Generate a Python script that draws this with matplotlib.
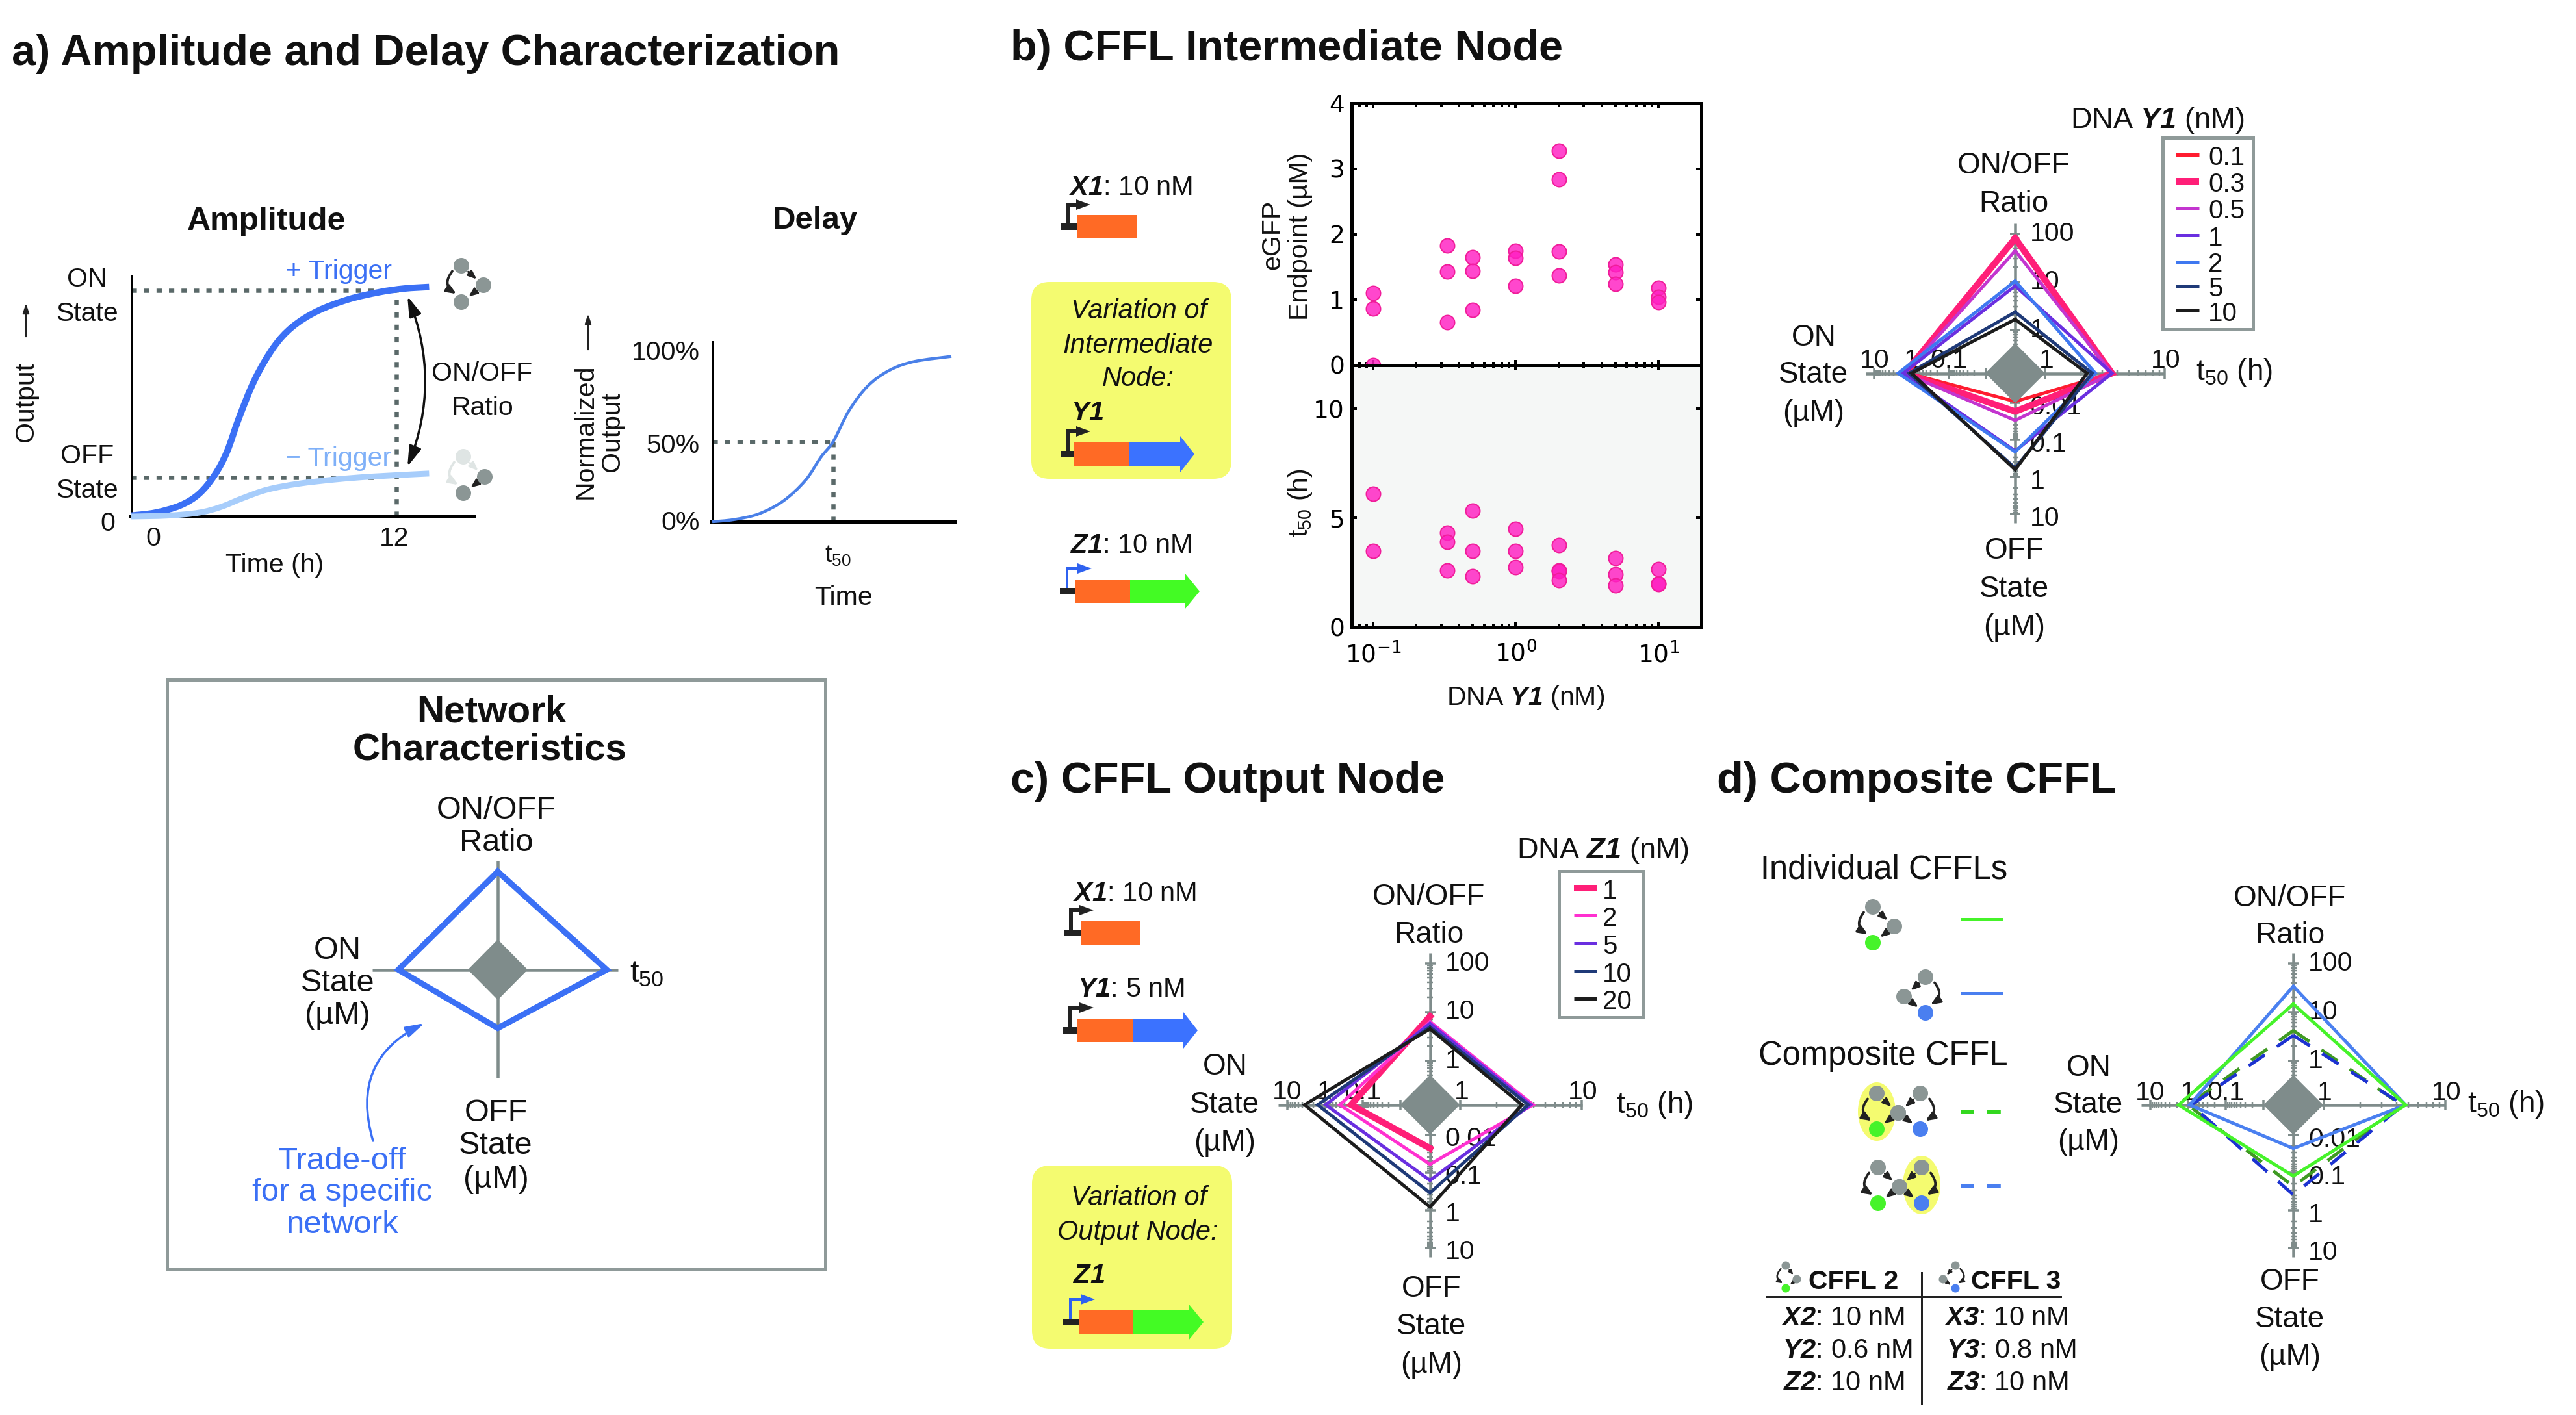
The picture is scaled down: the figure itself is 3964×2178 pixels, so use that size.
import matplotlib
matplotlib.use("Agg")
import matplotlib.pyplot as plt
import numpy as np
from matplotlib.patches import FancyArrowPatch, Rectangle, Polygon, Ellipse, FancyBboxPatch, PathPatch
from matplotlib.path import Path

W, H = 3964, 2178
plt.rcParams.update({
    'font.family': ['Liberation Sans', 'DejaVu Sans'],
    'mathtext.fontset': 'custom',
    'mathtext.rm': 'Liberation Sans',
    'mathtext.it': 'Liberation Sans:italic',
    'mathtext.bf': 'Liberation Sans:bold',
    'mathtext.bfit': 'Liberation Sans:italic:bold',
    'mathtext.default': 'regular',
})

# ---------- data ----------
amp_on_t = [-1.09, 0.10, 1.33, 2.25, 3.02, 3.63, 4.24, 5.01, 5.93, 6.85, 8.08, 9.61, 11.14, 12.37, 13.6]
amp_on_y = [0.004, 0.017, 0.049, 0.10, 0.183, 0.286, 0.44, 0.607, 0.748, 0.838, 0.908, 0.96, 0.992, 1.008, 1.015]
amp_off_t = [-1.09, 0.72, 2.25, 3.32, 4.40, 5.62, 7.16, 9.0, 10.84, 13.6]
amp_off_y = [0.0, 0.004, 0.017, 0.042, 0.081, 0.119, 0.145, 0.164, 0.177, 0.19]
delay_t = [0, 1.07, 2.31, 3.54, 4.62, 5.39, 6.01, 6.78, 7.71, 8.79, 10.02, 11.87]
delay_y = [0, 1.3, 4.9, 13.1, 25.8, 40.3, 50.3, 69.3, 84.8, 94.7, 100.2, 103.4]

dna_y1 = [0.1, 0.1, 0.1, 0.33, 0.33, 0.33, 0.5, 0.5, 0.5, 1, 1, 1, 2, 2, 2, 2, 5, 5, 5, 10, 10, 10]
egfp = [1.1, 0.86, 0.0, 1.83, 1.43, 0.655, 1.65, 1.44, 0.84, 1.75, 1.64, 1.21, 3.28, 2.84, 1.74, 1.37, 1.54, 1.42, 1.24, 1.18, 1.04, 0.96]
dna_y1_t = [0.1, 0.1, 0.33, 0.33, 0.33, 0.5, 0.5, 0.5, 1, 1, 1, 2, 2, 2, 2, 5, 5, 5, 10, 10, 10]
t50_y1 = [6.09, 3.49, 4.32, 3.9, 2.58, 5.33, 3.49, 2.32, 4.5, 3.49, 2.74, 3.74, 2.6, 2.56, 2.15, 3.16, 2.41, 1.91, 2.65, 2.0, 1.97]

# radar series: (ON/OFF ratio, t50, OFF state, ON state)
radar_b_labels = ['0.1', '0.3', '0.5', '1', '2', '5', '10']
radar_b_values = [
    [84.6, 3.63, 0.00927, 1.24],
    [80, 3.63, 0.0173, 1.52],
    [44, 3.63, 0.030, 1.52],
    [8.2, 3.63, 0.2, 1.68],
    [10.3, 2.64, 0.21, 2.28],
    [2.33, 2.48, 0.58, 1.17],
    [1.64, 2.25, 0.64, 1.0],
]
radar_b_colors = ['#ff1c30', '#ff1f78', '#c335cf', '#6a2fe0', '#3f78f0', '#1f3a78', '#1c1c1c']
radar_b_widths = [5, 10, 5, 5, 5, 5, 5]

radar_c_labels = ['1', '2', '5', '10', '20']
radar_c_values = [
    [8.07, np.nan, 0.023, 0.2],
    [6.27, 3.98, 0.061, 0.398],
    [5.76, 3.8, 0.163, 0.94],
    [4.87, 3.63, 0.35, 1.54],
    [4.48, 3.22, 0.83, 3.42],
]
radar_c_colors = ['#ff1f78', '#ff30d0', '#6a2fe0', '#1f3a78', '#1c1c1c']
radar_c_widths = [10, 5, 5, 5, 5]

radar_d_values = [
    [4.16, 4.4, 0.234, 1.0],
    [3.3, 4.54, 0.39, 0.82],
    [33.7, 4.74, 0.023, 0.91],
    [14.5, 4.74, 0.124, 1.78],
]
radar_d_colors = ['#3f9a22', '#1c32d0', '#4a80f0', '#46f32a']
radar_d_dashed = [True, True, False, False]

tradeoff_r = [151, 167.5, 90, 153]

ratio_ticks = [0.5, 0.6, 0.7, 0.8, 0.9, 1, 2, 3, 4, 5, 6, 7, 8, 9, 10, 20, 30, 40, 50, 60, 70, 80, 90, 100]
state_ticks = [0.01, 0.02, 0.03, 0.04, 0.05, 0.06, 0.07, 0.08, 0.09, 0.1, 0.2, 0.3, 0.4, 0.5, 0.6, 0.7, 0.8, 0.9,
               1, 2, 3, 4, 5, 6, 7, 8, 9, 10]
t50_ticks = [1, 2, 3, 4, 5, 6, 7, 8, 9, 10]

GRAY = '#7f8c8b'
BOXG = '#8f9a99'
INK = '#111111'
BLUE = '#3b70f5'
LBLUE = '#a7cdfb'
ORANGE = '#ff6a25'
GBLUE = '#3b72ff'
GGREEN = '#43fb24'
YELLOW = '#f4fb70'
NODE = '#8b9695'
ARROW = '#222222'
DOTC = '#5a6969'

fig = plt.figure(figsize=(W / 100, H / 100), dpi=100, facecolor='white')


def px_axes(x0, y0, x1, y1, z=2):
    a = fig.add_axes([x0 / W, 1 - y1 / H, (x1 - x0) / W, (y1 - y0) / H], zorder=z)
    a.patch.set_alpha(0)
    return a


ov = px_axes(0, 0, W, H, z=1)
ov.set_xlim(0, W)
ov.set_ylim(H, 0)
ov.axis('off')


def T(x, y, s, size=30, ha='center', va='center', color=INK, **kw):
    if 'rotation' in kw:
        x += 4
    else:
        y += 5
    return ov.text(x, y, s, fontsize=size, ha=ha, va=va, color=color, **kw)


def px(v):
    return v * 0.72


def smooth(ax, xs, ys, **kw):
    """Draw a smooth stroke through the read points (Catmull-Rom handles as Bezier controls)."""
    p = np.column_stack([xs, ys]).astype(float)
    verts = [p[0]]
    codes = [Path.MOVETO]
    for i in range(len(p) - 1):
        p0 = p[max(i - 1, 0)]
        p1, p2 = p[i], p[i + 1]
        p3 = p[min(i + 2, len(p) - 1)]
        verts += [p1 + (p2 - p0) / 6, p2 - (p3 - p1) / 6, p2]
        codes += [Path.CURVE4] * 3
    ax.add_patch(PathPatch(Path(verts, codes), fill=False, clip_on=False, **kw))


# ---------- panel titles ----------
TS = 48
T(18, 78, 'a) Amplitude and Delay Characterization', size=TS, ha='left', weight='bold')
T(1555, 71, 'b) CFFL Intermediate Node', size=TS, ha='left', weight='bold')
T(1555, 1198, 'c) CFFL Output Node', size=TS, ha='left', weight='bold')
T(2642, 1198, 'd) Composite CFFL', size=TS, ha='left', weight='bold')

# ---------- amplitude ----------
a1 = px_axes(202, 425, 729, 795)
a1.set_xlim(-1.09, 15.8)
a1.set_ylim(0, 1.063)
a1.set_xticks([])
a1.set_yticks([])
for s in ['top', 'right']:
    a1.spines[s].set_visible(False)
a1.spines['left'].set_linewidth(px(3))
a1.spines['bottom'].set_linewidth(px(6))
dot = (0, (1.25, 1.7))
DW = px(6.5)
a1.plot([-1.09, 12.0], [1, 1], color=DOTC, lw=DW, ls=dot, zorder=1)
a1.plot([12.0, 12.0], [0, 1], color=DOTC, lw=DW, ls=dot, zorder=1)
a1.plot([-1.09, 11], [0.172, 0.172], color=DOTC, lw=DW, ls=dot, zorder=1)
smooth(a1, amp_on_t, amp_on_y, edgecolor=BLUE, lw=px(10), zorder=3, capstyle='butt')
smooth(a1, amp_off_t, amp_off_y, edgecolor=LBLUE, lw=px(9), zorder=4, capstyle='butt')

T(410, 336, 'Amplitude', size=36, weight='bold')
T(1254, 334, 'Delay', size=35.5, weight='bold')
for y, s in [(425, 'ON'), (478, 'State'), (697, 'OFF'), (750, 'State')]:
    T(134, y, s, size=29.5)
T(166, 801, '0', size=29.5)
T(236, 824, '0', size=29.5)
T(607, 824, '12', size=29.5)
T(423, 865, 'Time (h)', size=29.5)
T(521, 413, '+ Trigger', size=29.5, color=BLUE)
T(521, 701, '\u2212 Trigger', size=29.5, color='#7fb0f8')
T(742, 570, 'ON/OFF', size=29.5)
T(742, 623, 'Ratio', size=29.5)
T(36, 618, 'Output', size=29.5, rotation=90)
T(897, 664, 'Normalized', size=29.5, rotation=90)
T(938, 664, 'Output', size=29.5, rotation=90)


def arr(p0, p1, rad=0.0, color=ARROW, lw=3, head=(10, 4), style='-|>', z=5):
    st = f"{style},head_length={head[0] * 0.72},head_width={head[1] * 0.72}"
    ov.add_patch(FancyArrowPatch(p0, p1, connectionstyle=f"arc3,rad={rad}", arrowstyle=st, color=color,
                                 lw=px(lw), shrinkA=0, shrinkB=0, zorder=z, mutation_scale=1))


arr((40, 518), (40, 467), lw=2.5, head=(12, 4))
arr((905, 538), (905, 483), lw=2.5, head=(12, 4))
arr((627, 456), (627, 718), rad=-0.2, lw=3.5, head=(26, 8), style='<|-|>', color='#111111')


def node(x, y, c, r=12):
    ov.add_patch(Ellipse((x, y), 2 * r, 2 * r, color=c, lw=0, zorder=6))


def ffl(X, Y, Z, cz, bend, r=12, shade=None, lw=3):
    """X -> Y -> Z with an arc X -> Z."""
    s = r / 12
    c_xy = shade or ARROW
    gap = r + 2

    def short(a, b):
        a, b = np.array(a, float), np.array(b, float)
        d = (b - a) / np.linalg.norm(b - a)
        return tuple(a + d * gap), tuple(b - d * gap)

    p, q = short(X, Y)
    arr(p, q, color=c_xy, lw=lw * s, head=(11 * s, 4.5 * s))
    p, q = short(Y, Z)
    arr(p, q, lw=lw * s, head=(11 * s, 4.5 * s))
    side = -1 if bend > 0 else 1
    off = 14 * s * side
    arr((X[0] + off, X[1] + gap * 0.6), (Z[0] + off * 0.55, Z[1] - gap * 0.9), rad=bend, color=c_xy,
        lw=(lw + 0.8) * s, head=(12 * s, 5 * s))
    node(*X, NODE if shade is None else '#dfe5e4', r)
    node(*Y, NODE, r)
    node(*Z, cz, r)


ffl((710, 409), (744, 439), (710, 465), NODE, 0.55)
ffl((713, 703), (746, 734), (713, 759), NODE, 0.55, shade='#dfe5e4')

# ---------- delay ----------
a2 = px_axes(1096, 525.5, 1469, 803)
a2.set_xlim(0, 12.03)
a2.set_ylim(0, 112.8)
a2.set_xticks([])
a2.set_yticks([])
for s in ['top', 'right']:
    a2.spines[s].set_visible(False)
a2.spines['left'].set_linewidth(px(3))
a2.spines['bottom'].set_linewidth(px(6))
a2.plot([0, 6.01], [50, 50], color=DOTC, lw=DW, ls=dot, zorder=1)
a2.plot([6.01, 6.01], [0, 50], color=DOTC, lw=DW, ls=dot, zorder=1)
smooth(a2, delay_t, delay_y, edgecolor='#4a80e8', lw=px(4.5), zorder=3, capstyle='butt')
T(1077, 538, '100%', size=29.5, ha='right')
T(1077, 681, '50%', size=29.5, ha='right')
T(1077, 800, '0%', size=29.5, ha='right')
T(1289, 851, 't$_{50}$', size=27)
T(1298, 915, 'Time', size=29.5)

# ---------- network characteristics box ----------
ov.add_patch(Rectangle((257, 1046), 1013, 908, fill=False, ec=BOXG, lw=px(5)))
T(756, 1091, 'Network', size=42, weight='bold')
T(754, 1150, 'Characteristics', size=42, weight='bold')
ncx, ncy = 766, 1492.6
ov.plot([573, 951], [ncy, ncy], color=GRAY, lw=px(4.5), solid_capstyle='butt')
ov.plot([ncx, ncx], [1325, 1659], color=GRAY, lw=px(4.5), solid_capstyle='butt')
ov.add_patch(Polygon([(ncx, ncy - 46.5), (ncx + 46, ncy), (ncx, ncy + 46.5), (ncx - 46, ncy)], color=GRAY, lw=0, zorder=3))
r_t, r_r, r_b, r_l = tradeoff_r
ov.plot([ncx, ncx + r_r, ncx, ncx - r_l, ncx], [ncy - r_t, ncy, ncy + r_b, ncy, ncy - r_t], color=BLUE, lw=px(9),
        solid_joinstyle='miter', zorder=4)
for y, s in [(1242, 'ON/OFF'), (1293, 'Ratio')]:
    T(764, y, s, size=35)
for y, s in [(1458, 'ON'), (1508, 'State'), (1559, '(\u00b5M)')]:
    T(519.5, y, s, size=35)
for y, s in [(1708, 'OFF'), (1758, 'State'), (1810, '(\u00b5M)')]:
    T(763, y, s, size=35)
T(995, 1494, 't$_{50}$', size=35)
for y, s in [(1782, 'Trade-off'), (1831, 'for a specific'), (1881, 'network')]:
    T(527, y, s, size=35.5, color=BLUE)
arr((574, 1756), (653, 1575), rad=-0.42, color=BLUE, lw=3.5, head=(24, 7))


# ---------- genes ----------
def gene(x0, xs, xe, ymid, half, ptop, atip, pcol, seg=None, tip=None, hx=None, hh=None):
    ov.add_patch(Rectangle((x0, ymid - 5), xs + 2 - x0, 10, color=ARROW, lw=0, zorder=3))
    pxv = x0 + 11
    w = 5.5 if pcol == ARROW else 4.5
    ov.add_patch(Rectangle((pxv - w / 2, ptop - w / 2), w, ymid - ptop, color=pcol, lw=0, zorder=2))
    ov.add_patch(Rectangle((pxv - w / 2, ptop - w / 2), atip - 15 - pxv, w, color=pcol, lw=0, zorder=2))
    ov.add_patch(Polygon([(atip - 22, ptop - 8), (atip, ptop), (atip - 22, ptop + 8)], color=pcol, lw=0, zorder=2))
    xm = xe
    ov.add_patch(Rectangle((xs, ymid - half), xm - xs, 2 * half, color=ORANGE, lw=0, zorder=4))
    if seg:
        ov.add_patch(Polygon([(xm, ymid - half), (hx, ymid - half), (hx, ymid - hh), (tip, ymid), (hx, ymid + hh),
                              (hx, ymid + half), (xm, ymid + half)], color=seg, lw=0, zorder=4))


ov.add_patch(FancyBboxPatch((1587 + 25, 434 + 25), 308 - 50, 303 - 50, boxstyle='round,pad=25,rounding_size=28',
                            color=YELLOW, lw=0, zorder=0.5))
ov.add_patch(FancyBboxPatch((1588 + 25, 1794 + 25), 308 - 50, 282 - 50, boxstyle='round,pad=25,rounding_size=28',
                            color=YELLOW, lw=0, zorder=0.5))

T(1740, 284, r'$\mathbfit{X1}$: 10 nM')
gene(1632, 1658, 1750, 349, 18, 315, 1678, ARROW)
T(1753, 474, 'Variation of', style='italic')
T(1751, 527, 'Intermediate', style='italic')
T(1751, 578, 'Node:', style='italic')
T(1673, 631, r'$\mathbfit{Y1}$')
gene(1632, 1653, 1738, 699, 18, 664, 1678, ARROW, GBLUE, 1838, 1816, 28)
T(1740, 835, r'$\mathbfit{Z1}$: 10 nM')
gene(1631, 1655, 1739, 910, 18, 875, 1680, '#2f62f0', GGREEN, 1846, 1823, 28)

T(1746, 1371, r'$\mathbfit{X1}$: 10 nM')
gene(1637, 1664, 1755, 1436, 18, 1401, 1683, ARROW)
T(1741, 1518, r'$\mathbfit{Y1}$: 5 nM')
gene(1636, 1658, 1743, 1586, 18, 1551, 1683, ARROW, GBLUE, 1843, 1821, 28)
T(1753, 1839, 'Variation of', style='italic')
T(1751, 1892, 'Output Node:', style='italic')
T(1676, 1959, r'$\mathbfit{Z1}$')
gene(1636, 1660, 1744, 2035, 18, 2000, 1685, '#2f62f0', GGREEN, 1852, 1829, 28)

# ---------- scatter panels ----------
XL = (10 ** -1.15, 10 ** 1.30)
s_top = px_axes(2080, 159, 2618, 562, z=3)
s_bot = px_axes(2080, 562, 2618, 965, z=3)
s_bot.patch.set_alpha(1)
s_bot.set_facecolor('#f5f7f6')
for a in (s_top, s_bot):
    a.set_xscale('log')
    a.set_xlim(*XL)
    for s in a.spines.values():
        s.set_linewidth(px(5))
    a.tick_params(which='major', direction='in', top=True, right=True, length=6, width=px(4), labelsize=27,
                  labelfontfamily='DejaVu Sans', pad=8)
    a.tick_params(which='minor', direction='in', top=True, right=False, length=3.5, width=px(4))
    a.set_xticks([0.1, 1, 10])
    a.set_xticks([0.08, 0.09] + [i / 10 for i in range(2, 10)] + list(range(2, 10)) + [20], minor=True)
    a.set_xticklabels([])
    a.set_xticklabels([], minor=True)
s_top.set_ylim(0, 4)
s_top.set_yticks([0, 1, 2, 3, 4])
s_bot.set_ylim(0, 12)
s_bot.set_yticks([0, 5, 10])
s_bot.set_xticklabels(['10$^{-1}$', '10$^{0}$', '10$^{1}$'], fontfamily='DejaVu Sans', fontsize=27)
s_bot.tick_params(axis='x', which='major', pad=16)
mk = dict(s=250, facecolor=(1.0, 0.12, 0.76, 0.82), edgecolor='#f01d9a', linewidth=px(2), zorder=3)
s_top.scatter(dna_y1, egfp, **mk)
s_bot.scatter(dna_y1_t, t50_y1, **mk)
T(1954, 361, 'eGFP', rotation=90, size=29.5)
T(1997, 364, 'Endpoint (\u00b5M)', rotation=90, size=29.5)
T(1997, 774, 't$_{50}$ (h)', rotation=90, size=29.5)
T(2348, 1069, r'DNA $\mathbfit{Y1}$ (nM)', size=29.5)


# ---------- radar ----------
def r_ratio(v):
    return 68 + 75 * np.log10(v)


def r_state(v):
    return 162 + 58 * np.log10(v)


def r_t50(v):
    return 46.5 + 187 * np.log10(v)


def radar(cx, cy, values, colors, widths, dashed=None, scale=1.0):
    R = 420
    a = px_axes(cx - R, cy - R, cx + R, cy + R, z=2)
    a.set_xlim(-R, R)
    a.set_ylim(-R, R)
    a.axis('off')
    L = 234 * scale
    a.plot([-L, L], [0, 0], color=GRAY, lw=px(4.5), solid_capstyle='butt', zorder=1)
    a.plot([0, 0], [-L, L], color=GRAY, lw=px(4.5), solid_capstyle='butt', zorder=1)
    maj = {1, 10, 100, 0.01, 0.1}
    for v in ratio_ticks:
        h = 8 if v in maj else 4.5
        y = r_ratio(v) * scale
        a.plot([-h, h], [y, y], color=GRAY, lw=px(3.5 if v in maj else 2.5), zorder=1, solid_capstyle='butt')
    for v in state_ticks:
        h = 8 if v in maj else 4.5
        y = r_state(v) * scale
        lw = px(3.5 if v in maj else 2.5)
        a.plot([-h, h], [-y, -y], color=GRAY, lw=lw, zorder=1, solid_capstyle='butt')
        a.plot([-y, -y], [-h, h], color=GRAY, lw=lw, zorder=1, solid_capstyle='butt')
    for v in t50_ticks:
        h = 8 if v in (1, 10) else 4.5
        x = r_t50(v) * scale
        a.plot([x, x], [-h, h], color=GRAY, lw=px(3.5 if v in (1, 10) else 2.5), zorder=1, solid_capstyle='butt')
    for s, lab in zip([100, 10, 1], ['100', '10', '1']):
        a.text(23 * scale, r_ratio(s) * scale, lab, fontsize=29.5, color=INK, ha='left', va='center', zorder=2)
    for s, lab in zip([0.01, 0.1, 1, 10], ['0.01', '0.1', '1', '10']):
        a.text(23 * scale, -r_state(s) * scale - 7, lab, fontsize=29.5, color=INK, ha='left', va='center', zorder=2)
    for s, lab in zip([10, 1, 0.1], ['10', '1', '0.1']):
        a.text(-r_state(s) * scale, 19, lab, fontsize=29.5, color=INK, ha='center', va='center', zorder=2)
    for s, lab in zip([1, 10], ['1', '10']):
        a.text(r_t50(s) * scale + 2, 19, lab, fontsize=29.5, color=INK, ha='center', va='center', zorder=2)
    for i, (vals, c, w) in enumerate(zip(values, colors, widths)):
        rt, tt, off, on = vals
        xs = [0, r_t50(tt) * scale, 0, -r_state(on) * scale, 0]
        ys = [r_ratio(rt) * scale, 0, -r_state(off) * scale, 0, r_ratio(rt) * scale]
        kw = dict(color=c, lw=px(w), zorder=3 + i * 0.1, solid_joinstyle='miter')
        if dashed and dashed[i]:
            kw['dashes'] = (6, 4.5)
            kw['dash_capstyle'] = 'butt'
        a.plot(xs, ys, **kw)
    a.add_patch(Polygon([(0, 46), (46, 0), (0, -46), (-46, 0)], color=GRAY, lw=0, zorder=4))


radar(3101, 574.5, radar_b_values, radar_b_colors, radar_b_widths, scale=0.985)
radar(2200.5, 1700.5, radar_c_values, radar_c_colors, radar_c_widths)
radar(3529, 1700.7, radar_d_values, radar_d_colors, [5, 5, 5, 5], dashed=radar_d_dashed)

tz = 33
for cx, ys in [(3099, (250, 309)), (2199, (1376, 1434)), (3524, (1378, 1435.5))]:
    T(cx, ys[0], 'ON/OFF', size=tz)
    T(cx, ys[1], 'Ratio', size=tz)
for cx, ys in [(2791, (515, 572, 631)), (1885, (1637, 1696, 1754)), (3214, (1638.5, 1696, 1753))]:
    T(cx, ys[0], 'ON', size=tz)
    T(cx, ys[1], 'State', size=tz)
    T(cx, ys[2], '(\u00b5M)', size=tz)
for cx, ys in [(3099.5, (843, 902, 961)), (2203, (1979, 2037, 2096)), (3524, (1968, 2026, 2084))]:
    T(cx, ys[0], 'OFF', size=tz)
    T(cx, ys[1], 'State', size=tz)
    T(cx, ys[2], '(\u00b5M)', size=tz)
T(3379, 568, 't$_{50}$ (h)', size=tz, ha='left')
T(2487, 1696, 't$_{50}$ (h)', size=tz, ha='left')
T(3797, 1695, 't$_{50}$ (h)', size=tz, ha='left')

# legends
T(3320, 180, r'DNA $\mathbfit{Y1}$ (nM)', size=32.5)
ov.add_patch(Rectangle((3328, 212), 139, 295, fill=False, ec=BOXG, lw=px(5), zorder=3))
for y, lab, c, w in zip([238, 279, 320, 362, 402.5, 440, 478], radar_b_labels, radar_b_colors, radar_b_widths):
    ov.plot([3348, 3384], [y, y], color=c, lw=px(w), solid_capstyle='butt')
    T(3398, y, lab, size=29, ha='left')
T(2466, 1305, r'DNA $\mathbfit{Z1}$ (nM)', size=32.5)
ov.add_patch(Rectangle((2399, 1341), 129, 225, fill=False, ec=BOXG, lw=px(5), zorder=3))
for y, lab, c, w in zip([1367, 1409, 1452, 1495, 1537], radar_c_labels, radar_c_colors, radar_c_widths):
    ov.plot([2422, 2457], [y, y], color=c, lw=px(w), solid_capstyle='butt')
    T(2466, y, lab, size=29, ha='left')

# ---------- composite legend ----------
T(2899, 1334, 'Individual CFFLs', size=36.5)
T(2898, 1621, 'Composite CFFL', size=36.5)
CG, CB = '#46f32a', '#4a7ff0'
ffl((2882, 1396), (2915, 1426), (2882, 1451), CG, 0.55)
ffl((2963, 1504), (2930, 1534), (2963, 1559), CB, -0.55)
ov.plot([3017, 3082], [1415, 1415], color=CG, lw=px(4), solid_capstyle='butt')
ov.plot([3017, 3082], [1529, 1529], color=CB, lw=px(4), solid_capstyle='butt')

for dy, yc, ycx in [(0, 1711, 2888), (114, 1824, 2957)]:
    xo = 2 if dy else 0
    ov.add_patch(Ellipse((ycx, yc), 58, 90, color=YELLOW, lw=0, zorder=1))
    ffl((2888 + xo, 1683 + dy), (2921 + xo, 1713 + dy), (2888 + xo, 1738 + dy), CG, 0.55)
    ffl((2955 + xo, 1683 + dy), (2921 + xo, 1713 + dy), (2955 + xo, 1738 + dy), CB, -0.55)
for y, c in [(1711.5, '#33d81f'), (1826, CB)]:
    ov.plot([3017, 3079], [y, y], color=c, lw=px(6), dashes=(3.5, 3.3), dash_capstyle='butt')

ffl((2748, 1948), (2765, 1969), (2748, 1983), CG, 0.6, r=6.5, lw=4)
ffl((3009, 1948), (2990, 1969), (3009, 1983), CB, -0.6, r=6.5, lw=4)
T(2852, 1968, 'CFFL 2', size=29.5, weight='bold')
T(3102, 1968, 'CFFL 3', size=29.5, weight='bold')
ov.plot([2719, 3171], [1995.5, 1995.5], color='#222222', lw=px(3))
ov.plot([2957, 2957], [1959, 2160], color='#222222', lw=px(3))
for x, y, s in [(2836, 2024, r'$\mathbfit{X2}$: 10 nM'), (2843, 2074, r'$\mathbfit{Y2}$: 0.6 nM'),
                (2837, 2124, r'$\mathbfit{Z2}$: 10 nM'), (3087, 2024, r'$\mathbfit{X3}$: 10 nM'),
                (3095, 2074, r'$\mathbfit{Y3}$: 0.8 nM'), (3089, 2124, r'$\mathbfit{Z3}$: 10 nM')]:
    T(x, y, s, size=30)

fig.savefig('out.png', dpi=100, facecolor='white')
